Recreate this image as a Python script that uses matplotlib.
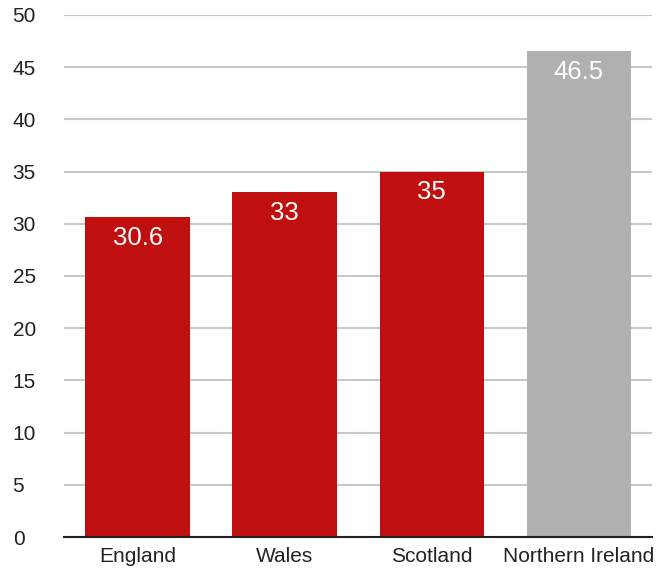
import matplotlib.pyplot as plt

# data
regions = ['England', 'Wales', 'Scotland', 'Northern Ireland']
values = [30.6, 33, 35, 46.5]
colours = ['#C00F0F', '#C00F0F', '#C00F0F', '#B0B0B0']
yticks = list(range(0, 51, 5))

plt.rcParams['font.family'] = ['Liberation Sans', 'DejaVu Sans']

fig = plt.figure(figsize=(6.67, 5.72), dpi=100)
ax = fig.add_axes([0.096, 0.061, 0.882, 0.913])

x = range(len(regions))
bars = ax.bar(x, values, width=0.71, color=colours, zorder=3)

for b, v in zip(bars, values):
    ax.annotate(f'{v:g}', (b.get_x() + b.get_width() / 2, v),
                xytext=(0, -6), textcoords='offset points',
                ha='center', va='top', color='white', fontsize=18.5, zorder=4)

ax.set_xlim(-0.5, 3.5)
ax.set_ylim(0, 50)
ax.set_yticks(yticks)
ax.set_xticks(list(x))
ax.set_xticklabels(regions)
ax.yaxis.grid(True, color='#C8C8C8', linewidth=1.5, zorder=0)
ax.tick_params(axis='both', length=0, labelsize=15, colors='#222222')
ax.tick_params(axis='y', pad=37)
ax.tick_params(axis='x', pad=7)
for s in ['top', 'right', 'left']:
    ax.spines[s].set_visible(False)
ax.spines['bottom'].set_color('#222222')
ax.spines['bottom'].set_linewidth(1.5)
ax.spines['bottom'].set_zorder(5)
for lbl in ax.get_yticklabels():
    lbl.set_horizontalalignment('left')

fig.savefig('out.png', dpi=100)
